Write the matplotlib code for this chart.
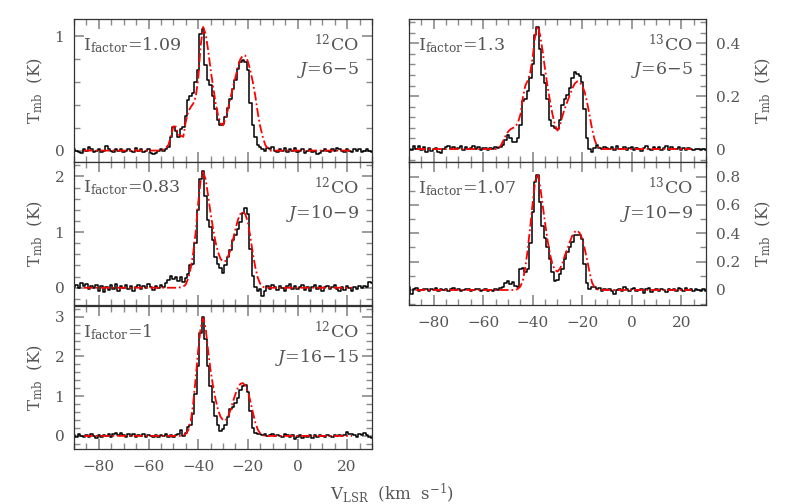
import numpy as np
import matplotlib
matplotlib.use("Agg")
import matplotlib.pyplot as plt
from matplotlib.ticker import MultipleLocator, FuncFormatter

plt.rcParams['font.family'] = ['DejaVu Serif']
plt.rcParams['mathtext.fontset'] = 'dejavuserif'
plt.rcParams['axes.unicode_minus'] = True

# ---------------- data ----------------
# observed channels (km/s), -90 ... 30
v_obs = np.arange(-90, 31)

# 12CO J=6-5
obs_12co_65 = [
    0.01, 0.00, -0.01, -0.02, 0.01, 0.00, 0.03, 0.01, -0.01, 0.00,   # -90
    0.01, -0.01, 0.00, 0.04, 0.01, 0.00, -0.01, 0.01, 0.00, 0.01,   # -80
    -0.01, 0.00, 0.01, 0.00, -0.01, 0.02, 0.00, 0.01, -0.01, 0.00,  # -70
    0.01, -0.02, -0.03, -0.02, 0.00, 0.01, 0.00, 0.01, 0.03, 0.12,  # -60
    0.21, 0.17, 0.12, 0.19, 0.21, 0.30, 0.44, 0.48, 0.50, 0.60,     # -50
    0.70, 1.02, 1.06, 0.75, 0.62, 0.57, 0.48, 0.36, 0.27, 0.22,     # -40
    0.23, 0.29, 0.37, 0.45, 0.54, 0.62, 0.71, 0.77, 0.79, 0.77,     # -30
    0.70, 0.42, 0.22, 0.12, 0.05, 0.03, 0.01, 0.00, 0.02, 0.01,     # -20
    0.03, 0.00, -0.01, 0.01, 0.00, 0.02, -0.01, 0.01, 0.00, 0.02,   # -10
    -0.01, 0.00, 0.01, -0.02, 0.00, 0.01, -0.01, 0.00, -0.03, -0.02, # 0
    0.00, 0.01, 0.00, -0.01, 0.01, 0.00, 0.02, 0.01, 0.00, -0.01,   # 10
    0.01, 0.00, -0.01, 0.01, 0.00, 0.01, -0.01, 0.00, 0.01, 0.00,   # 20
    -0.01]                                                          # 30

# 12CO J=10-9
obs_12co_109 = [
    0.02, 0.05, 0.00, 0.08, 0.03, 0.06, -0.02, 0.04, 0.00, 0.05,
    -0.06, 0.03, -0.08, 0.02, -0.04, 0.05, -0.02, 0.06, -0.05, 0.03,
    0.00, 0.05, -0.03, 0.04, -0.06, 0.02, 0.05, -0.02, 0.04, 0.00,
    0.06, 0.02, -0.04, 0.03, 0.00, 0.05, 0.02, 0.08, 0.14, 0.22,
    0.15, 0.20, 0.12, 0.19, 0.10, 0.18, 0.25, 0.40, 0.42, 0.80,
    1.40, 1.95, 2.10, 1.65, 1.22, 1.10, 0.85, 0.55, 0.42, 0.35,
    0.26, 0.40, 0.55, 0.68, 0.85, 0.95, 1.05, 1.18, 1.35, 1.44,
    1.32, 0.70, 0.22, 0.02, -0.05, -0.02, -0.14, -0.06, 0.03, -0.02,
    0.05, 0.01, -0.04, 0.04, 0.00, -0.05, 0.03, 0.06, -0.02, 0.04,
    -0.03, 0.02, 0.05, -0.04, 0.01, -0.06, 0.02, 0.05, -0.02, 0.03,
    -0.05, 0.02, 0.04, -0.03, 0.01, 0.05, -0.02, -0.06, 0.02, -0.04,
    0.03, 0.00, -0.05, 0.02, -0.03, 0.04, 0.00, 0.03, 0.02, 0.10,
    0.08]

# 12CO J=16-15
obs_12co_1615 = [
    0.02, -0.03, 0.05, 0.00, -0.04, 0.03, -0.02, 0.04, 0.00, -0.05,
    0.02, -0.03, 0.03, 0.00, 0.05, -0.02, 0.04, 0.07, 0.02, 0.08,
    0.03, -0.02, 0.04, 0.00, 0.05, -0.03, 0.02, 0.00, 0.04, -0.02,
    0.03, 0.00, -0.04, 0.02, -0.03, 0.03, 0.00, 0.04, -0.02, 0.01,
    -0.03, 0.03, 0.05, 0.15, 0.00, 0.08, 0.22, 0.28, 0.55, 1.05,
    1.75, 2.60, 3.00, 2.45, 1.75, 1.25, 0.86, 0.50, 0.28, 0.12,
    0.18, 0.28, 0.48, 0.68, 0.72, 0.82, 0.95, 1.15, 1.25, 1.28,
    1.10, 0.62, 0.20, 0.08, 0.04, 0.06, 0.02, 0.05, 0.00, 0.03,
    0.04, -0.01, 0.03, 0.00, -0.02, 0.04, 0.01, -0.03, 0.02, -0.08,
    -0.04, 0.02, -0.05, 0.00, -0.03, 0.02, -0.06, 0.01, -0.02, 0.03,
    0.00, -0.03, 0.02, 0.00, -0.02, 0.03, 0.00, 0.02, -0.01, 0.03,
    0.09, 0.04, 0.05, 0.02, -0.02, 0.04, 0.03, 0.08, 0.02, -0.04,
    -0.05]

# 13CO J=6-5
obs_13co_65 = [
    0.000, -0.005, 0.010, 0.000, 0.012, -0.005, 0.008, -0.010, 0.005, -0.008,
    0.000, 0.004, -0.012, -0.015, 0.000, 0.006, 0.010, 0.002, 0.008, 0.000,
    0.005, 0.010, -0.004, 0.006, 0.000, 0.004, 0.010, 0.002, 0.006, -0.004,
    0.003, 0.005, -0.002, 0.004, 0.000, 0.006, 0.003, 0.008, 0.015, 0.035,
    0.055, 0.040, 0.025, 0.027, 0.040, 0.090, 0.180, 0.190, 0.220, 0.270,
    0.320, 0.430, 0.460, 0.380, 0.280, 0.250, 0.190, 0.110, 0.088, 0.080,
    0.075, 0.110, 0.165, 0.190, 0.205, 0.230, 0.270, 0.290, 0.285, 0.275,
    0.255, 0.150, 0.040, 0.000, -0.010, 0.005, 0.015, 0.005, 0.000, 0.008,
    0.003, 0.000, 0.007, -0.003, 0.010, 0.002, 0.000, 0.006, -0.004, 0.005,
    0.008, -0.002, 0.004, 0.000, -0.006, 0.005, 0.010, 0.000, -0.004, 0.006,
    0.000, 0.008, -0.002, 0.004, 0.010, -0.004, 0.006, 0.000, 0.002, 0.009,
    -0.003, 0.004, -0.005, 0.003, 0.000, -0.004, 0.002, 0.000, -0.003, 0.000,
    -0.002]

# 13CO J=10-9
obs_13co_109 = [
    0.020, -0.030, 0.010, 0.015, -0.010, 0.000, 0.010, 0.005, -0.005, 0.010,
    0.000, 0.015, -0.010, 0.005, 0.000, 0.010, -0.005, 0.010, 0.015, 0.000,
    0.005, -0.010, 0.000, 0.005, 0.010, -0.005, 0.000, 0.010, 0.005, -0.010,
    0.000, 0.010, -0.010, 0.000, -0.005, 0.010, 0.000, 0.015, 0.020, 0.050,
    0.060, 0.040, 0.055, 0.030, 0.020, 0.150, 0.155, 0.130, 0.150, 0.330,
    0.550, 0.760, 0.810, 0.620, 0.450, 0.370, 0.300, 0.220, 0.130, 0.060,
    0.070, 0.110, 0.150, 0.220, 0.270, 0.300, 0.340, 0.390, 0.390, 0.390,
    0.360, 0.180, 0.050, 0.010, 0.020, 0.020, 0.010, 0.015, -0.010, 0.010,
    0.000, 0.005, -0.010, -0.030, 0.000, 0.010, -0.005, 0.020, 0.010, -0.010,
    0.005, 0.015, -0.010, 0.000, 0.010, -0.020, 0.005, 0.015, -0.015, 0.000,
    0.010, -0.010, 0.005, 0.000, -0.015, 0.010, 0.000, 0.005, -0.005, 0.015,
    0.010, -0.005, 0.015, 0.000, 0.005, -0.005, 0.010, 0.000, -0.010, 0.005,
    -0.010]

# model velocities (km/s) and model spectra
v_mod_left = [-86] + list(range(-56, -10)) + [22]
mod_12co_65 = [0.0,
    0.00, 0.00, 0.01, 0.02, 0.05, 0.12, 0.21, 0.21, 0.14, 0.13,   # -56..-47
    0.12, 0.25, 0.34, 0.38, 0.41, 0.47, 0.62, 0.92, 1.08, 1.02,   # -46..-37
    0.88, 0.71, 0.56, 0.42, 0.31, 0.24, 0.22, 0.28, 0.36, 0.46,   # -36..-27
    0.55, 0.64, 0.73, 0.80, 0.83, 0.83, 0.78, 0.70, 0.60, 0.48,   # -26..-17
    0.33, 0.21, 0.12, 0.05, 0.02, 0.00,                           # -16..-11
    0.0]
mod_12co_109 = [0.0,
    0.00, 0.00, 0.00, 0.00, 0.00, 0.00, 0.00, 0.00, 0.00, 0.01,
    0.02, 0.06, 0.17, 0.35, 0.62, 1.00, 1.52, 1.92, 2.08, 1.95,
    1.66, 1.34, 1.06, 0.82, 0.64, 0.52, 0.47, 0.48, 0.56, 0.68,
    0.86, 1.05, 1.22, 1.33, 1.37, 1.32, 1.18, 0.92, 0.62, 0.37,
    0.18, 0.07, 0.02, 0.00, 0.00, 0.00,
    0.0]
mod_12co_1615 = [0.0,
    0.00, 0.00, 0.00, 0.00, 0.00, 0.00, 0.00, 0.00, 0.00, 0.00,
    0.01, 0.05, 0.14, 0.36, 0.82, 1.45, 2.15, 2.72, 2.97, 2.72,
    2.15, 1.65, 1.25, 0.92, 0.66, 0.48, 0.40, 0.39, 0.48, 0.65,
    0.86, 1.05, 1.22, 1.31, 1.33, 1.27, 1.12, 0.88, 0.60, 0.34,
    0.16, 0.06, 0.02, 0.00, 0.00, 0.00,
    0.0]

v_mod_right = [-87] + list(range(-56, -10)) + [24]
mod_13co_65 = [0.0,
    0.000, 0.000, 0.003, 0.012, 0.030, 0.050, 0.065, 0.075, 0.080, 0.085,
    0.100, 0.130, 0.195, 0.240, 0.260, 0.290, 0.350, 0.430, 0.465, 0.430,
    0.370, 0.300, 0.235, 0.180, 0.130, 0.090, 0.070, 0.090, 0.125, 0.155,
    0.180, 0.205, 0.230, 0.248, 0.256, 0.252, 0.240, 0.215, 0.175, 0.125,
    0.075, 0.035, 0.012, 0.003, 0.000, 0.000,
    0.0]
mod_13co_109 = [0.0,
    0.000, 0.000, 0.000, 0.000, 0.000, 0.000, 0.000, 0.000, 0.000, 0.000,
    0.008, 0.025, 0.065, 0.160, 0.290, 0.450, 0.620, 0.770, 0.810, 0.730,
    0.600, 0.470, 0.350, 0.250, 0.180, 0.140, 0.130, 0.150, 0.190, 0.245,
    0.290, 0.340, 0.385, 0.410, 0.420, 0.400, 0.360, 0.290, 0.210, 0.120,
    0.050, 0.018, 0.005, 0.000, 0.000, 0.000,
    0.0]

# panel annotations
i_factors = ['1.09', '0.83', '1', '1.3', '1.07']
species = ['12', '12', '12', '13', '13']
transitions = ['6\u22125', '10\u22129', '16\u221215', '6\u22125', '10\u22129']

# ---------------- figure ----------------
W, H = 797, 504
fig = plt.figure(figsize=(W / 100, H / 100), dpi=100)

TXT = '#555555'
TICK = '#8a8a8a'


def fig_rect(x0, y0, x1, y1):
    return [x0 / W, 1 - y1 / H, (x1 - x0) / W, (y1 - y0) / H]


yfmt = FuncFormatter(lambda v, _: '{:g}'.format(round(v, 6)).replace('-', '\u2212'))

panels = [
    dict(rect=fig_rect(74, 19, 372, 162), obs=obs_12co_65, vm=v_mod_left, mod=mod_12co_65,
         ylim=(-0.1, 1.15), major=1, minor=0.2, side='left', xlab=False),
    dict(rect=fig_rect(74, 162, 372, 305), obs=obs_12co_109, vm=v_mod_left, mod=mod_12co_109,
         ylim=(-0.31, 2.26), major=1, minor=0.2, side='left', xlab=False),
    dict(rect=fig_rect(74, 306, 372, 449), obs=obs_12co_1615, vm=v_mod_left, mod=mod_12co_1615,
         ylim=(-0.33, 3.27), major=1, minor=0.2, side='left', xlab=True),
    dict(rect=fig_rect(409, 19, 706, 162), obs=obs_13co_65, vm=v_mod_right, mod=mod_13co_65,
         ylim=(-0.049, 0.492), major=0.2, minor=0.04, side='right', xlab=False),
    dict(rect=fig_rect(409, 162, 706, 305), obs=obs_13co_109, vm=v_mod_right, mod=mod_13co_109,
         ylim=(-0.106, 0.903), major=0.2, minor=0.1, side='right', xlab=True),
]

for i, p in enumerate(panels):
    ax = fig.add_axes(p['rect'])
    ax.plot(v_obs, p['obs'], drawstyle='steps-mid', color='black', lw=1.1, zorder=2)
    ax.plot(p['vm'], p['mod'], color='#ff0000', lw=1.3,
            linestyle=(0, (5, 1.6, 1, 1.6)), zorder=3)
    ax.set_xlim(-90, 30)
    ax.set_ylim(*p['ylim'])
    ax.xaxis.set_major_locator(MultipleLocator(20))
    ax.xaxis.set_minor_locator(MultipleLocator(5))
    ax.yaxis.set_major_locator(MultipleLocator(p['major']))
    ax.yaxis.set_minor_locator(MultipleLocator(p['minor']))
    ax.yaxis.set_major_formatter(yfmt)
    ax.tick_params(which='both', direction='in', top=True, bottom=True, left=True, right=True,
                   color=TICK, labelcolor=TXT, labelsize=11)
    ax.tick_params(which='major', length=7, width=1.2, pad=8)
    ax.tick_params(which='minor', length=4, width=1.0)
    ax.tick_params(axis='y', which='major', pad=7)
    if p['side'] == 'left':
        ax.tick_params(labelleft=True, labelright=False)
    else:
        ax.tick_params(labelleft=False, labelright=True)
    ax.tick_params(labelbottom=p['xlab'], labeltop=False)
    for s in ax.spines.values():
        s.set_color('#333333')
        s.set_linewidth(0.9)

    ax.text(0.03, 0.82, r'$\mathrm{I_{factor}}$=' + i_factors[i], transform=ax.transAxes,
            ha='left', va='center', fontsize=12.5, color=TXT)
    ax.text(0.955, 0.82, r'$^{' + species[i] + r'}$CO', transform=ax.transAxes,
            ha='right', va='center', fontsize=12.5, color=TXT)
    ax.text(0.955, 0.64, r'$J$=' + transitions[i], transform=ax.transAxes,
            ha='right', va='center', fontsize=12.5, color=TXT)

    # y label
    r = p['rect']
    yc = r[1] + r[3] / 2
    xl = 35 / W if p['side'] == 'left' else 763 / W
    fig.text(xl, yc, r'$\mathrm{T_{mb}}$  (K)', rotation=90, ha='center', va='center',
             fontsize=12, color=TXT)

fig.text(392 / W, 1 - 493 / H, r'$\mathrm{V_{LSR}}$  (km  s$^{-1}$)', ha='center', va='center',
         fontsize=12, color=TXT)

fig.savefig('out.png', dpi=100, facecolor='white')
